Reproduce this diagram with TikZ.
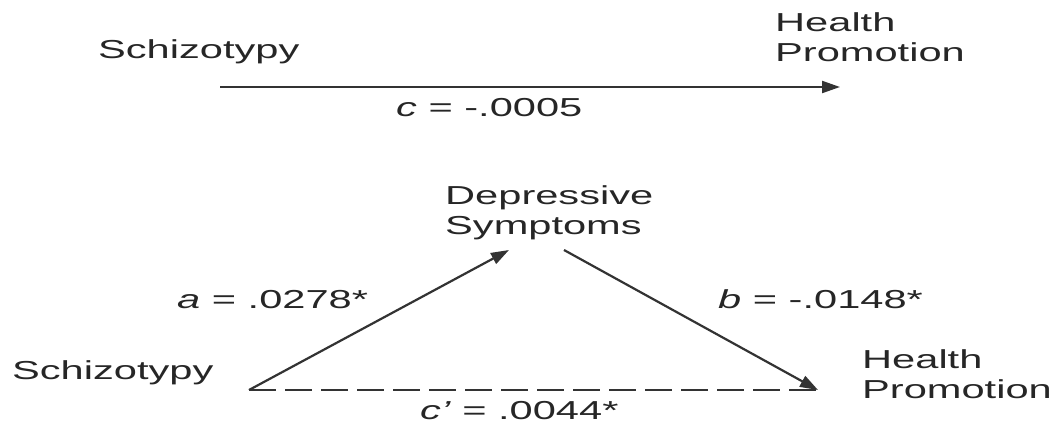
\documentclass[tikz,border=0pt]{standalone}
\usepackage{fontspec}
\newfontfamily\widesf[FakeStretch=1.6]{Liberation Sans}
\usetikzlibrary{arrows.meta}

\begin{document}
\begin{tikzpicture}[x=1pt, y=1pt,
        var/.style={inner sep=0pt, anchor=base west, align=left, text=black!85,
          font=\widesf\fontsize{26}{30}\selectfont},
        lbl/.style={var},
        path/.style={draw=black!80, line width=2.2pt,
          -{Triangle[length=18pt, width=12pt]}},
        direct/.style={draw=black!80, line width=2.2pt, dash pattern=on 27pt off 9pt}]

      \useasboundingbox (0,0) rectangle (1062,424);

      % total effect
      \node[var] (schizoA) at (98,365) {Schizotypy};
      \node[var] (healthA) at (775,362) {Health\\Promotion};
      \coordinate (cFrom) at (220,337);
      \coordinate (cTo) at (840,337);
      \draw[path] (cFrom) -- (cTo);
      \node[lbl] (cLbl) at (396,308) {\textit{c} = -.0005};

      % mediated model
      \node[var] (schizoB) at (12,45) {Schizotypy};
      \node[var] (depr) at (445,190) {Depressive\\Symptoms};
      \node[var] (healthB) at (862,26) {Health\\Promotion};
      \coordinate (aFrom) at (249,34);
      \coordinate (aTo) at (509,174);
      \coordinate (bFrom) at (564,174);
      \coordinate (bTo) at (818,34);
      \draw[path] (aFrom) -- (aTo);
      \draw[path] (bFrom) -- (bTo);
      \draw[direct] (aFrom) -- (bTo);
      \node[lbl] (aLbl) at (177,116) {\textit{a} = .0278*};
      \node[lbl] (bLbl) at (718,116) {\textit{b} = -.0148*};
      \node[lbl] (cpLbl) at (420,5) {\textit{c’} = .0044*};
    \end{tikzpicture}
\end{document}
